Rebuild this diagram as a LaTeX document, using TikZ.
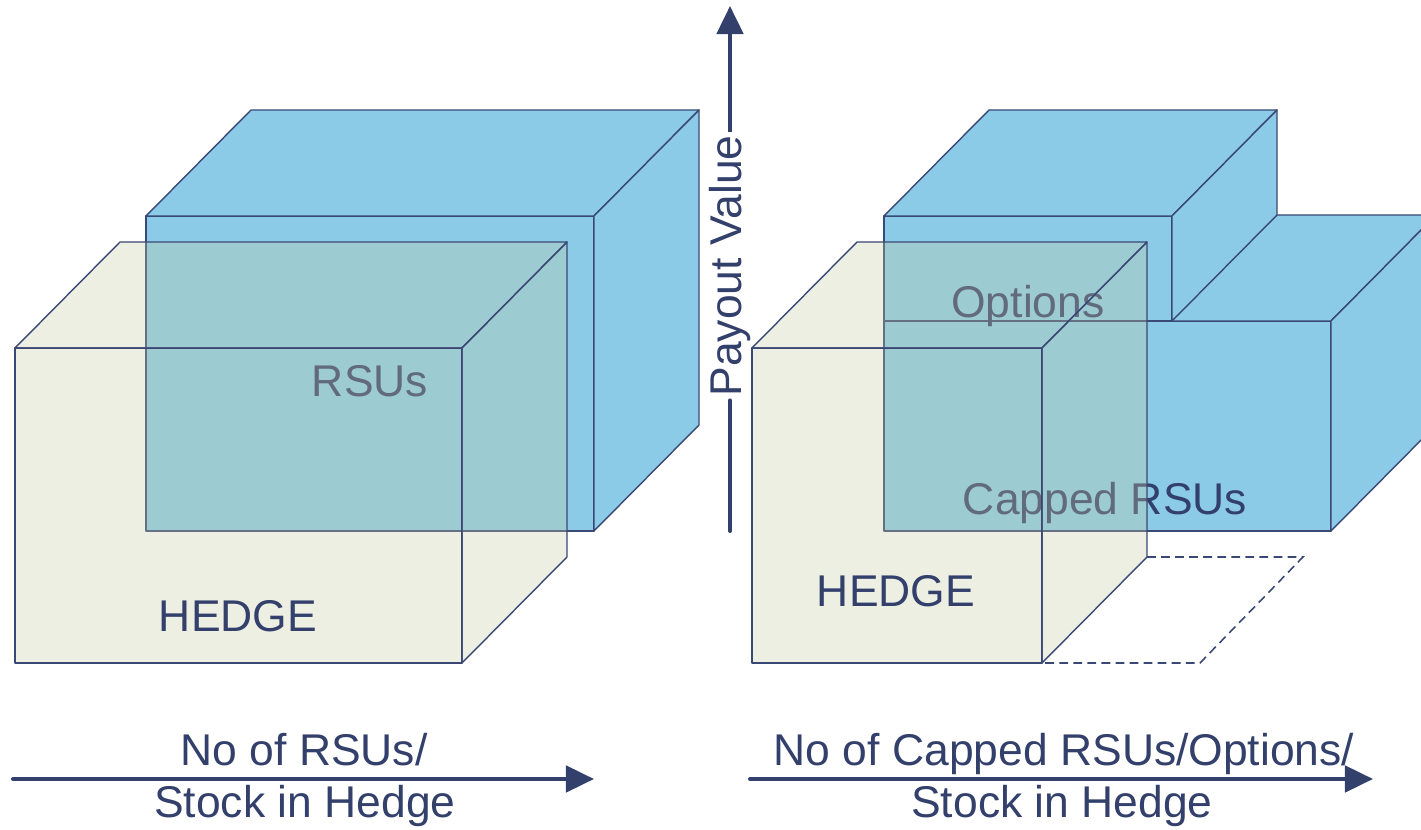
\documentclass[tikz,border=0pt]{standalone}
\usepackage{fontspec}
\setmainfont{Liberation Sans}
\usepackage{xcolor}
\definecolor{BOXCOLOR}{RGB}{139,203,231}
\definecolor{HEDGECOLOR}{RGB}{200,203,166}
\definecolor{TEXTCOLOR}{RGB}{51,64,107}
\definecolor{EDGECOLOR}{RGB}{58,72,118}
\usepackage{tikz}
\usetikzlibrary{arrows.meta,positioning}
\tikzset{
  box-style/.style = {
    draw=EDGECOLOR, line width=0.8pt, line join=round,
    fill=#1
  },
  blue-style/.style = {
    box-style=BOXCOLOR
  },
  hedge-style/.style = {
    box-style=HEDGECOLOR,
    fill opacity=0.31
  },
  floor-style/.style = {
    draw=EDGECOLOR, line width=0.9pt, dash pattern=on 5pt off 3pt
  },
  label-style/.style = {
    text=TEXTCOLOR, inner sep=0pt, anchor=base,
    font=\fontsize{25.3}{30}\selectfont
  },
  axis-style/.style = {
    draw=TEXTCOLOR, line width=2.3pt, line cap=round
  },
  axis-tip/.style = {
    axis-style, line cap=butt,
    -{Triangle[length=16pt,width=15pt]}
  }
}
% depth of every cuboid, in pixels
\newcommand\depthX{105}
\newcommand\depthY{-106}
\def\createBox from:(#1,#2) to:(#3,#4) style:#5;{
  \path[#5] (#1,#2) rectangle (#3,#4);
  \path[#5] (#1,#2) -- ++(\depthX,\depthY) -- ++({#3-#1},0) -- (#3,#2) -- cycle;
  \path[#5] (#3,#2) -- ++(\depthX,\depthY) -- ++(0,{#4-#2}) -- (#3,#4) -- cycle;
}

\begin{document}
\begin{tikzpicture}[x=0.02cm,y=-0.02cm]
  \useasboundingbox (0,0) rectangle (1421,830);
  \clip (0,0) rectangle (1421,830);

  % left: RSUs and hedge
  \createBox from:(146,216) to:(594,531) style:blue-style;
  \node[label-style] (rsuLabel) at (370,397) {RSUs};
  \createBox from:(15,348) to:(462,663) style:hedge-style;
  \node[label-style] (hedgeLeftLabel) at (238,632) {HEDGE};

  % right: capped RSUs, options and hedge
  \createBox from:(884,321) to:(1331,531) style:blue-style;
  \createBox from:(884,216) to:(1172,321) style:blue-style;
  \node[label-style] (optionsLabel) at (1028,318) {Options};
  \node[label-style] (cappedLabel) at (1105,515) {Capped RSUs};
  \draw[floor-style] (1147,557) -- (1303,557) -- (1200,663) -- (1042,663);
  \createBox from:(752,348) to:(1042,663) style:hedge-style;
  \node[label-style] (hedgeRightLabel) at (896,607) {HEDGE};

  % payout axis
  \coordinate (payBase) at (730,531);
  \coordinate (payTip) at (730,6);
  \node[label-style, anchor=center, rotate=90, inner sep=2pt] (payout) at (730,266) {Payout Value};
  \draw[axis-style] (payBase) -- (payout.west);
  \draw[axis-tip] (payout.east) -- (payTip);

  % quantity axes
  \coordinate (leftStart) at (13,779);
  \coordinate (leftEnd) at (594,779);
  \draw[axis-tip, line cap=round] (leftStart) -- (leftEnd);
  \node[label-style] (leftTop) at (304,766) {No of RSUs/};
  \node[label-style] (leftBottom) at (305,818) {Stock in Hedge};

  \coordinate (rightStart) at (750,779);
  \coordinate (rightEnd) at (1373,779);
  \draw[axis-tip, line cap=round] (rightStart) -- (rightEnd);
  \node[label-style] (rightTop) at (1064,766) {No of Capped RSUs/Options/};
  \node[label-style] (rightBottom) at (1062,818) {Stock in Hedge};
\end{tikzpicture}
\end{document}
